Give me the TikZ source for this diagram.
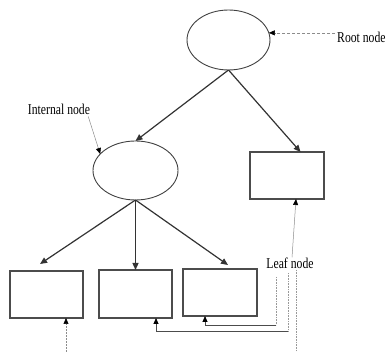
\documentclass[tikz,border=0pt]{standalone}
\usepackage{fontspec}
\setmainfont{Liberation Serif}
\usetikzlibrary{arrows.meta,shapes.geometric,calc}
\begin{document}
\begin{tikzpicture}[x=1pt,y=-1pt,
  ell/.style={ellipse,draw=black!75,line width=0.9pt,inner sep=0pt,outer sep=0pt},
  leafbox/.style={rectangle,draw=black!70,line width=1.1pt,inner sep=0pt,outer sep=0pt},
  edge/.style={draw=black!80,line width=1.2pt,-{Triangle[length=7pt,width=6pt]}},
  lbl/.style={inner sep=0pt,font=\fontsize{15}{18}\selectfont},
  ptr/.style={draw=black!45,line width=0.5pt,-{Triangle[length=6pt,width=5pt,color=black]}},
  dotln/.style={draw=black!40,line width=0.6pt,densely dotted},
  route/.style={draw=black!70,line width=0.8pt,-{Triangle[length=6pt,width=5pt,color=black]}}
]
\useasboundingbox (0,0) rectangle (386,352);

% nodes
\node[ell,minimum width=83pt,minimum height=60pt] (root) at (228.5,40) {};
\node[ell,minimum width=85pt,minimum height=59pt] (internal) at (135.5,170.5) {};
\node[leafbox,minimum width=74pt,minimum height=47pt] (rleaf) at (287,175.5) {};
\node[leafbox,minimum width=73pt,minimum height=47pt] (box1) at (46.5,294.5) {};
\node[leafbox,minimum width=73pt,minimum height=48pt] (box2) at (135.5,294) {};
\node[leafbox,minimum width=74pt,minimum height=47pt] (box3) at (220,292.5) {};

% labels
\node[lbl,anchor=west] (rootlbl) at (337,37) {\scalebox{0.78}[1]{Root node}};
\node[lbl] (intlbl) at (59,109) {\scalebox{0.78}[1]{Internal node}};
\node[lbl] (leaflbl) at (290,263) {\scalebox{0.78}[1]{Leaf node}};

% tree edges
\draw[edge] (root.south) -- (internal.north);
\draw[edge] (root.south) -- (rleaf.60);
\draw[edge] (internal.south) -- ([shift={(-6.5,-7)}]box1.north);
\draw[edge] (internal.south) -- (box2.north);
\draw[edge] (internal.south) -- ([shift={(8,-4)}]box3.north);

% root label pointer
\draw[ptr,densely dashed] ([xshift=-2pt]rootlbl.west |- root.10) -- (root.10);

% internal label pointer
\draw[ptr] ([shift={(-2,2)}]intlbl.south east) -- (internal.155);

% leaf label pointers
\draw[ptr] ([xshift=2pt]leaflbl.north) -- ([xshift=9pt]rleaf.south);

\coordinate (a1) at (276,277);
\coordinate (a2) at (276,325);
\draw[dotln] (a1) -- (a2);
\draw[route] (a2) -| ([xshift=-15pt]box3.south);

\coordinate (b1) at (288,273);
\coordinate (b2) at (288,331);
\draw[dotln] (b1) -- (b2);
\draw[route] (b2) -| ([xshift=20.5pt]box2.south);

\coordinate (c1) at (296,270);
\coordinate (c2) at (296,352);
\draw[dotln] (c1) -- (c2);

\coordinate (d1) at (66,352);
\draw[ptr,densely dotted] (d1) -- ([xshift=19.5pt]box1.south);
\end{tikzpicture}
\end{document}
